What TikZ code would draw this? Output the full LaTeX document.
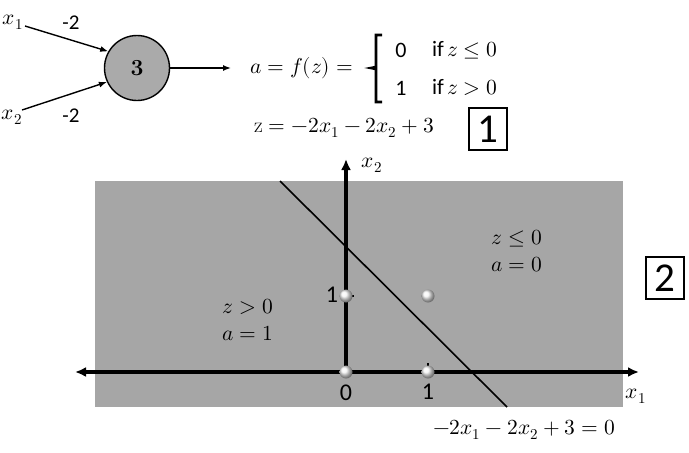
\documentclass[tikz,border=0pt]{standalone}
\usepackage{fontspec}
\usepackage{unicode-math}
\newfontfamily\calib{Carlito}
\usetikzlibrary{arrows.meta}
\definecolor{neurong}{RGB}{170,170,170}
\definecolor{plotg}{RGB}{166,166,166}
\tikzset{
  mth/.style={font=\fontsize{21.5}{25}\selectfont, inner sep=0pt},
  cal/.style={font=\calib\fontsize{22}{25}\selectfont, inner sep=0pt},
  wlab/.style={font=\calib\fontsize{21}{24}\selectfont, inner sep=0pt},
  axlab/.style={font=\calib\fontsize{24}{27}\selectfont, inner sep=0pt},
  boxnum/.style={draw, line width=1.8pt, font=\calib\fontsize{41}{44}\selectfont, minimum width=38pt, minimum height=42pt, inner sep=0pt},
  conn/.style={line width=1.4pt, -{Latex[length=8pt,width=6pt]}},
  axis/.style={line width=3.4pt},
  ballpt/.style={circle, minimum size=13pt, inner sep=0pt, ball color=white!92!gray, shading=ball},
}
\begin{document}
\begin{tikzpicture}[x=1pt,y=-1pt]
\useasboundingbox (0,0) rectangle (689,453);
% neuron
\node[circle, draw, line width=1.4pt, fill=neurong, minimum size=65pt, inner sep=0pt, font=\bfseries\fontsize{23}{26}\selectfont] (n) at (137,68) {3};
\node[mth] (x1) at (13,22) {$x_1$};
\node[mth] (x2) at (12,117) {$x_2$};
\coordinate (x1e) at (25,26);
\coordinate (x2e) at (22,110);
\draw[conn] (x1e) -- (n.150);
\draw[conn] (x2e) -- (n.205);
\node[wlab] (w1) at (71,23) {-2};
\node[wlab] (w2) at (71,116) {-2};
\coordinate (out) at (231,68);
\draw[conn] (n.east) -- (out);
% activation
\node[mth, anchor=west] (af) at (250,68) {$a=f(z)=$};
\draw[line width=2.6pt, line join=miter] (382,35) -- (376,35) -- (376,67) -- (371,68) -- (376,69) -- (376,102) -- (382,102);
\node[cal] (c0) at (401,50) {0};
\node[cal] (c1) at (401,88) {1};
\node[anchor=west, inner sep=0pt] (i0) at (432,50) {{\calib\fontsize{22}{25}\selectfont if} \fontsize{21.5}{25}\selectfont$z\leq 0$};
\node[anchor=west, inner sep=0pt] (i1) at (432,88) {{\calib\fontsize{22}{25}\selectfont if} \fontsize{21.5}{25}\selectfont$z> 0$};
\node[mth, anchor=west] (zeq) at (254,128) {$\mathrm{z}=-2x_1-2x_2+3$};
\node[boxnum] (b1) at (488,129) {1};
% plot
\fill[plotg] (95,181) rectangle (623,407);
\coordinate (o) at (346,372);
\coordinate (xl) at (75,372);
\coordinate (xr) at (639,372);
\coordinate (yt) at (346,159);
\draw[axis, {Latex[length=11pt,width=10pt]}-{Latex[length=11pt,width=10pt]}] (xl) -- (xr);
\draw[axis, -{Latex[length=11pt,width=10pt]}] (o) -- (yt);
\coordinate (lt) at (280,181);
\coordinate (lb) at (507,407);
\draw[line width=1.6pt] (lt) -- (lb);
\draw[line width=1.5pt] (346,296) -- (354,296);
\draw[line width=1.5pt] (428,363) -- (428,372);
\node[ballpt] (p00) at (346,372) {};
\node[ballpt] (p01) at (346,296) {};
\node[ballpt] (p11) at (428,296) {};
\node[ballpt] (p10) at (428,372) {};
\node[axlab] (l0) at (346,393) {0};
\node[axlab] (l1) at (428,392) {1};
\node[axlab] (ly1) at (332,295) {1};
\node[mth] (x2l) at (372,165) {$x_2$};
\node[mth] (x1l) at (636,396) {$x_1$};
\node[mth] (r0a) at (517,239) {$z\leq 0$};
\node[mth] (r0b) at (517,265) {$a=0$};
\node[mth] (r1a) at (248,307) {$z>0$};
\node[mth] (r1b) at (248,333) {$a=1$};
\node[boxnum] (b2) at (665,278) {2};
\node[mth] (leq) at (524,430) {$-2x_1-2x_2+3=0$};
\end{tikzpicture}
\end{document}
